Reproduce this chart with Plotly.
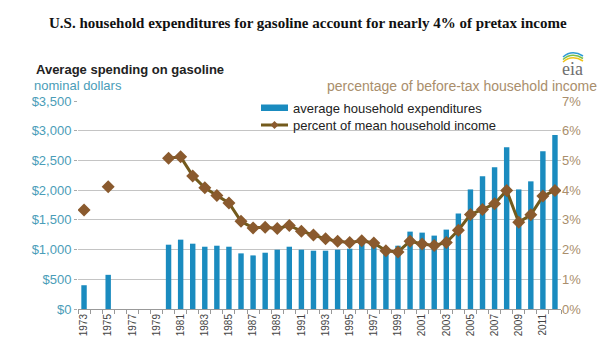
import plotly.graph_objects as go

years = list(range(1973, 2013))
spending = [400, None, 575, None, None, None, None,
            1082, 1167, 1099, 1048, 1065, 1048, 936, 902, 947, 998, 1048, 998, 981, 981,
            998, 1015, 1099, 1082, 964, 1065, 1302, 1285, 1235, 1336, 1607, 2012, 2232,
            2384, 2723, 2012, 2148, 2655, 2926]
percent = [3.33, None, 4.11, None, None, None, None,
           5.07, 5.12, 4.48, 4.08, 3.82, 3.57, 2.95, 2.73, 2.75, 2.71, 2.81, 2.62, 2.49, 2.36,
           2.28, 2.24, 2.30, 2.22, 1.96, 1.92, 2.28, 2.19, 2.14, 2.24, 2.65, 3.18, 3.35,
           3.54, 3.99, 2.92, 3.17, 3.80, 3.99]
left_ticks = [0, 500, 1000, 1500, 2000, 2500, 3000, 3500]
left_labels = ["$0", "$500", "$1,000", "$1,500", "$2,000", "$2,500", "$3,000", "$3,500"]
right_ticks = [0, 1, 2, 3, 4, 5, 6, 7]
right_labels = ["0%", "1%", "2%", "3%", "4%", "5%", "6%", "7%"]
label_years = list(range(1973, 2013, 2))
series_names = ["average household expenditures", "percent of mean household income"]

teal = "#4a9db8"
tan = "#a98e6c"
bar_color = "#1a8bbf"
line_color = "#735a1c"
marker_color = "#8a5a2e"

# plot-area geometry in pixels (for placing text/legend in paper coordinates)
L, R, T, B = 78, 561, 101, 309


def px(x):
    return (x - L) / (R - L)


def py(y):
    return (B - y) / (B - T)


fig = go.Figure()
fig.add_trace(go.Bar(x=years, y=spending, name=series_names[0],
                     marker=dict(color=bar_color, line=dict(width=0)), width=0.45,
                     showlegend=False))
fig.add_trace(go.Scatter(x=years, y=percent, name=series_names[1],
                         yaxis="y2", mode="lines+markers", connectgaps=False,
                         line=dict(color=line_color, width=3),
                         marker=dict(symbol="diamond", size=10, color=marker_color),
                         showlegend=False))

fig.update_layout(
    width=608, height=347,
    margin=dict(l=L, r=608 - R, t=T, b=347 - B, autoexpand=False),
    paper_bgcolor="white", plot_bgcolor="white",
    font=dict(family="Arial, Liberation Sans", size=12, color="#333"),
    xaxis=dict(range=[1972.5, 2012.5], tickmode="array", tickvals=label_years,
               ticktext=[str(y) for y in label_years], tickangle=-90,
               tickfont=dict(size=10, color="#444"), ticks="", showgrid=False,
               showline=True, linecolor="#999", linewidth=1, automargin=False,
               minor=dict(tickmode="linear", tick0=1972.5, dtick=1, ticks="outside",
                          ticklen=4, tickcolor="#999", showgrid=False)),
    yaxis=dict(range=[0, 3500], tickmode="array", tickvals=left_ticks, ticktext=left_labels,
               tickfont=dict(size=13, color=teal), showgrid=True, gridcolor="#c4c4c4",
               gridwidth=1, zeroline=False, ticks="outside", ticklen=3, tickcolor="#aaa",
               automargin=False),
    yaxis2=dict(range=[0, 7], overlaying="y", side="right", tickmode="array",
                tickvals=right_ticks, ticktext=right_labels, automargin=False,
                tickfont=dict(size=13, color=tan), showgrid=False, zeroline=False),
    bargap=0.5,
)

# custom legend
shapes = [
    dict(type="rect", xref="paper", yref="paper", x0=px(261), x1=px(288),
         y0=py(111), y1=py(104.5), fillcolor=bar_color, line=dict(width=0)),
    dict(type="line", xref="paper", yref="paper", x0=px(261), x1=px(288),
         y0=py(125), y1=py(125), line=dict(color=line_color, width=3)),
    dict(type="path", xref="paper", yref="paper",
         path=f"M {px(274.5)},{py(121)} L {px(278.5)},{py(125)} L {px(274.5)},{py(129)} L {px(270.5)},{py(125)} Z",
         fillcolor=marker_color, line=dict(width=0)),
]
# eia logo arcs
arc_colors = ["#f0c419", "#7cbf4a", "#2f9bd6"]
for i, c in enumerate(arc_colors):
    yy = 60 - i * 2.5
    shapes.append(dict(type="path", xref="paper", yref="paper",
                       path=f"M {px(563)},{py(yy + 2)} Q {px(572)},{py(yy - 6)} {px(583)},{py(yy + 1)}",
                       line=dict(color=c, width=1.5)))
fig.update_layout(shapes=shapes)

for name, yy in zip(series_names, [108, 125]):
    fig.add_annotation(text=name, xref="paper", yref="paper", x=px(291), y=py(yy),
                       xanchor="left", yanchor="middle", showarrow=False,
                       font=dict(size=13, color="#222"))

fig.add_annotation(text="<b>U.S. household expenditures for gasoline account for nearly 4% of pretax income</b>",
                   xref="paper", yref="paper", x=px(308), y=py(23), xanchor="center", yanchor="middle",
                   showarrow=False,
                   font=dict(family="Liberation Serif, Times New Roman", size=15, color="#111"))
fig.add_annotation(text="<b>Average spending on gasoline</b>", xref="paper", yref="paper",
                   x=px(34), y=py(69), xanchor="left", yanchor="middle",
                   showarrow=False, font=dict(size=13, color="#222"))
fig.add_annotation(text="nominal dollars", xref="paper", yref="paper",
                   x=px(32), y=py(85), xanchor="left", yanchor="middle",
                   showarrow=False, font=dict(size=13, color=teal))
fig.add_annotation(text="percentage of before-tax household income", xref="paper", yref="paper",
                   x=px(599), y=py(86), xanchor="right", yanchor="middle",
                   showarrow=False, font=dict(size=14, color=tan))
fig.add_annotation(text="eia", xref="paper", yref="paper",
                   x=px(572), y=py(69), xanchor="center", yanchor="middle",
                   showarrow=False, font=dict(family="Liberation Serif", size=18, color="#6f6f6f"))

fig.write_html("out.html")
